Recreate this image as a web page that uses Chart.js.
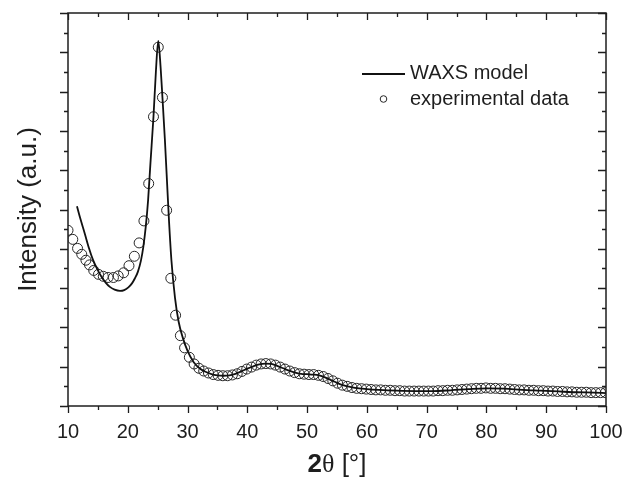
<!DOCTYPE html>
<html>
<head>
<meta charset="utf-8">
<script src="https://cdn.jsdelivr.net/npm/chart.js@4.4.1/dist/chart.umd.min.js"></script>
<style>
  html, body { margin: 0; padding: 0; background: #fff; }
  #wrap { width: 625px; height: 477px; }
</style>
</head>
<body>
<div id="wrap"><canvas id="chart" width="625" height="477"></canvas></div>
<script>
// experimental WAXS pattern (open circles)
const expTheta = [
  10.0, 10.8, 11.6, 12.3, 13.0, 13.6, 14.3, 15.1, 15.9, 16.7,
  17.6, 18.4, 19.3, 20.2, 21.1, 21.9, 22.7, 23.5, 24.3, 25.1,
  25.8, 26.5, 27.2, 28.0, 28.8, 29.5, 30.3, 31.1, 31.9, 32.7,
  33.5, 34.3, 35.1, 35.9, 36.7, 37.5, 38.3, 39.1, 39.9, 40.7,
  41.5, 42.3, 43.1, 43.9, 44.7, 45.5, 46.3, 47.1, 47.9, 48.7,
  49.5, 50.3, 51.1, 51.9, 52.7, 53.5, 54.3, 55.1, 55.9, 56.7,
  57.5, 58.3, 59.1, 59.9, 60.7, 61.5, 62.3, 63.1, 63.9, 64.7,
  65.5, 66.3, 67.1, 67.9, 68.7, 69.5, 70.3, 71.1, 71.9, 72.7,
  73.5, 74.3, 75.1, 75.9, 76.7, 77.5, 78.3, 79.1, 79.9, 80.7,
  81.5, 82.3, 83.1, 83.9, 84.7, 85.5, 86.3, 87.1, 87.9, 88.7,
  89.5, 90.3, 91.1, 91.9, 92.7, 93.5, 94.3, 95.1, 95.9, 96.7,
  97.5, 98.3, 99.1, 99.9
];
const expIntensity = [
  4.47, 4.24, 4.01, 3.86, 3.71, 3.59, 3.45, 3.35, 3.30, 3.27,
  3.27, 3.31, 3.39, 3.57, 3.81, 4.15, 4.71, 5.66, 7.36, 9.13,
  7.85, 4.98, 3.25, 2.31, 1.79, 1.48, 1.24, 1.07, 0.96, 0.89,
  0.84, 0.80, 0.78, 0.77, 0.77, 0.79, 0.82, 0.88, 0.94, 0.99,
  1.04, 1.07, 1.08, 1.07, 1.04, 0.99, 0.94, 0.89, 0.85, 0.82,
  0.81, 0.80, 0.80, 0.78, 0.75, 0.70, 0.64, 0.58, 0.53, 0.50,
  0.47, 0.45, 0.44, 0.43, 0.42, 0.41, 0.41, 0.40, 0.40, 0.39,
  0.39, 0.38, 0.38, 0.38, 0.38, 0.38, 0.38, 0.38, 0.39, 0.39,
  0.40, 0.40, 0.41, 0.42, 0.43, 0.44, 0.45, 0.45, 0.46, 0.45,
  0.45, 0.44, 0.44, 0.43, 0.42, 0.41, 0.41, 0.40, 0.40, 0.39,
  0.39, 0.38, 0.38, 0.37, 0.37, 0.36, 0.36, 0.35, 0.35, 0.35,
  0.34, 0.34, 0.34, 0.34
];

// WAXS model curve (solid line)
const modelTheta = [
  11.5, 12.0, 12.8, 13.5, 14.2, 15.0, 15.6, 16.3, 17.0, 17.8,
  18.7, 19.4, 20.1, 20.7, 21.2, 21.7, 22.2, 22.6, 23.0, 23.4,
  23.8, 24.3, 24.7, 25.1, 25.5, 25.8, 26.2, 26.5, 26.9, 27.3,
  27.9, 28.5, 29.2, 30.0, 31.0, 32.0, 33.0, 34.0, 35.0, 36.0,
  37.0, 38.0, 39.0, 40.0, 41.0, 42.0, 43.0, 44.0, 45.0, 46.0,
  47.0, 48.0, 49.0, 50.0, 51.0, 52.0, 53.0, 54.0, 55.0, 56.0,
  57.0, 58.0, 60.0, 62.0, 65.0, 68.0, 71.0, 74.0, 77.0, 80.0,
  83.0, 86.0, 89.0, 92.0, 95.0, 98.0, 100.0
];
const modelIntensity = [
  5.08, 4.80, 4.39, 4.02, 3.71, 3.45, 3.29, 3.14, 3.03, 2.96,
  2.93, 2.95, 3.02, 3.12, 3.25, 3.42, 3.70, 4.05, 4.55, 5.24,
  6.20, 7.36, 8.50, 9.29, 8.60, 7.85, 6.80, 5.90, 4.70, 3.71,
  2.75, 2.15, 1.74, 1.40, 1.12, 0.96, 0.87, 0.81, 0.78, 0.77,
  0.78, 0.82, 0.88, 0.95, 1.01, 1.06, 1.08, 1.07, 1.02, 0.96,
  0.90, 0.85, 0.82, 0.81, 0.80, 0.78, 0.73, 0.66, 0.59, 0.53,
  0.49, 0.46, 0.43, 0.41, 0.39, 0.38, 0.38, 0.40, 0.43, 0.45,
  0.44, 0.41, 0.39, 0.37, 0.35, 0.34, 0.33
];

const xMajorTicks = [10, 20, 30, 40, 50, 60, 70, 80, 90, 100];
const xMinorTicks = [15, 25, 35, 45, 55, 65, 75, 85, 95];
const yMajorTicks = [0, 1, 2, 3, 4, 5, 6, 7, 8, 9, 10];
const yMinorTicks = [0.5, 1.5, 2.5, 3.5, 4.5, 5.5, 6.5, 7.5, 8.5, 9.5];

const legendLabels = ["WAXS model", "experimental data"];
const yTitle = "Intensity (a.u.)";
const xTitleParts = ["2", "\u03B8", " [\u00B0]"];

const INK = "#1e1e1e";
const SANS = "'Liberation Sans', Arial, Helvetica, sans-serif";

// frame with mirrored ticks (outward on left/bottom, inward on top/right)
const framePlugin = {
  id: "frame",
  afterDraw(chart) {
    const { ctx, chartArea: a, scales: { x, y } } = chart;
    ctx.save();
    ctx.strokeStyle = INK;
    ctx.lineWidth = 1.5;
    ctx.strokeRect(a.left, a.top, a.right - a.left, a.bottom - a.top);
    ctx.lineWidth = 1.3;
    const tickX = (vals, len) => vals.forEach(v => {
      const px = Math.round(x.getPixelForValue(v)) + 0.5;
      ctx.beginPath();
      ctx.moveTo(px, a.bottom); ctx.lineTo(px, a.bottom + len);
      ctx.moveTo(px, a.top); ctx.lineTo(px, a.top + len);
      ctx.stroke();
    });
    const tickY = (vals, len) => vals.forEach(v => {
      const py = Math.round(y.getPixelForValue(v)) + 0.5;
      ctx.beginPath();
      ctx.moveTo(a.left, py); ctx.lineTo(a.left - len, py);
      ctx.moveTo(a.right, py); ctx.lineTo(a.right - len, py);
      ctx.stroke();
    });
    tickX(xMajorTicks, 7);
    tickX(xMinorTicks, 4);
    tickY(yMajorTicks, 8);
    tickY(yMinorTicks, 4);
    ctx.restore();
  }
};

// x title with bold "2" and theta, plus the in-plot legend
const annotPlugin = {
  id: "annot",
  afterDraw(chart) {
    const { ctx, chartArea: a } = chart;
    ctx.save();
    ctx.fillStyle = INK;
    ctx.textBaseline = "alphabetic";
    const fonts = ["bold 26px " + SANS, "26px 'Liberation Serif', 'Times New Roman', serif", "26px " + SANS];
    const widths = xTitleParts.map((t, i) => { ctx.font = fonts[i]; return ctx.measureText(t).width; });
    let tx = (a.left + a.right) / 2 - widths.reduce((s, w) => s + w, 0) / 2;
    xTitleParts.forEach((t, i) => { ctx.font = fonts[i]; ctx.fillText(t, tx, 472); tx += widths[i]; });

    const model = chart.data.datasets[0];
    const exp = chart.data.datasets[1];
    ctx.strokeStyle = model.borderColor;
    ctx.lineWidth = model.borderWidth;
    ctx.beginPath(); ctx.moveTo(362, 74); ctx.lineTo(405, 74); ctx.stroke();
    ctx.strokeStyle = exp.borderColor;
    ctx.lineWidth = 1;
    ctx.beginPath(); ctx.arc(383.5, 99, 3.3, 0, Math.PI * 2); ctx.stroke();
    ctx.font = "20px " + SANS;
    ctx.textBaseline = "middle";
    ctx.fillText(legendLabels[0], 410, 73);
    ctx.fillText(legendLabels[1], 410, 99);
    ctx.restore();
  }
};

new Chart(document.getElementById("chart"), {
  type: "scatter",
  data: {
    datasets: [{
      label: legendLabels[0],
      data: modelTheta.map((t, i) => ({ x: t, y: modelIntensity[i] })),
      showLine: true,
      borderColor: "#111",
      borderWidth: 1.8,
      pointRadius: 0,
      cubicInterpolationMode: "monotone",
      order: 0,
    }, {
      label: legendLabels[1],
      data: expTheta.map((t, i) => ({ x: t, y: expIntensity[i] })),
      showLine: false,
      pointStyle: "circle",
      pointRadius: 5,
      borderColor: "#262626",
      backgroundColor: "rgba(0,0,0,0)",
      pointBorderWidth: 1,
      order: 1,
    }],
  },
  options: {
    responsive: false,
    animation: false,
    layout: { padding: { top: 13, right: 19, left: 0, bottom: 0 } },
    plugins: { legend: { display: false }, tooltip: { enabled: false } },
    scales: {
      x: {
        type: "linear", min: 10, max: 100,
        grid: { display: false, drawTicks: false },
        border: { display: false },
        ticks: {
          stepSize: 10, autoSkip: false, maxRotation: 0, padding: 14,
          color: INK, font: { family: SANS, size: 20 },
        },
        afterFit(scale) {
          scale.height = 71;
          scale.paddingLeft = 0;
          scale.paddingRight = 0;
        },
      },
      y: {
        type: "linear", min: 0, max: 10,
        grid: { display: false, drawTicks: false },
        border: { display: false },
        ticks: { display: false },
        title: {
          display: true, text: yTitle, color: INK,
          font: { family: SANS, size: 26 }, padding: { top: 13, bottom: 0 },
        },
        afterFit(scale) { scale.width = 68; },
      },
    },
  },
  plugins: [framePlugin, annotPlugin],
});
</script>
</body>
</html>
